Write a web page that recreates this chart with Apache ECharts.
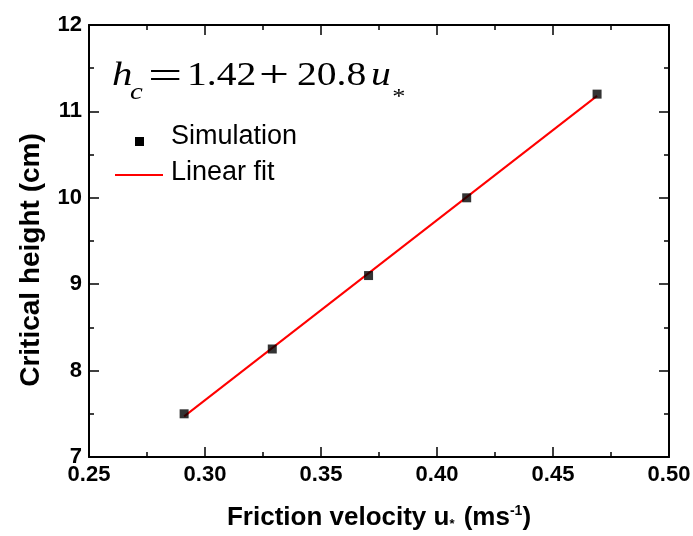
<!DOCTYPE html>
<html>
<head>
  <meta charset="UTF-8">
  <title>Critical height vs friction velocity</title>
  <script src="https://cdn.jsdelivr.net/npm/echarts@6/dist/echarts.min.js"></script>
  <style>
    html,body{margin:0;padding:0;background:#fff;}
    #chart{width:693px;height:536px;}
  </style>
</head>
<body>
<div id="chart"></div>
<script>
  // values
  var simX = [0.291, 0.329, 0.3705, 0.4128, 0.469];
  var simY = [7.5, 8.25, 9.1, 10.0, 11.2];
  var fitX = [0.291, 0.469];
  var fitY = [7.47, 11.18];

  var chart = echarts.init(document.getElementById('chart'));
  var font = 'Liberation Sans, Arial, sans-serif';
  var serif = 'Liberation Serif, Times New Roman, serif';

  function pairs(xs, ys){
    return xs.map(function(x, i){ return [x, ys[i]]; });
  }

  // one piece of the equation, stretched a bit like the original
  function eq(txt, x, y, size, italic, sx){
    return {
      type:'text', x:x, y:y, scaleX:sx || 1.2,
      style:{text:txt, fontFamily:serif, fontSize:size, fontStyle:italic ? 'italic' : 'normal',
        fill:'#000', align:'left', verticalAlign:'middle'}
    };
  }

  var tickStyle = {show:true, inside:true, length:10, lineStyle:{color:'#000', width:1.5}};
  var minorStyle = {show:true, splitNumber:2, length:5, lineStyle:{color:'#000', width:1.5}};
  var lineStyle = {show:true, lineStyle:{color:'#000', width:2}};

  chart.setOption({
    animation:false,
    grid:{left:89, right:24, top:25, bottom:79, containLabel:false, outerBoundsMode:'none'},
    xAxis:[{
      type:'value', min:0.25, max:0.5, interval:0.05,
      axisLine:lineStyle, axisTick:tickStyle, minorTick:minorStyle, splitLine:{show:false},
      axisLabel:{color:'#000', fontFamily:font, fontWeight:'bold', fontSize:22, margin:7,
        formatter:function(v){ return v.toFixed(2); }},
      name:'{n|Friction velocity u}{sub|*}{n| (ms}{sup|-1}{n|)}',
      nameLocation:'middle', nameGap:47,
      nameTextStyle:{rich:{
        n:{fontFamily:font, fontWeight:'bold', fontSize:26, color:'#000'},
        sub:{fontFamily:font, fontWeight:'bold', fontSize:13, color:'#000', verticalAlign:'bottom', padding:[14,2,0,0]},
        sup:{fontFamily:font, fontWeight:'bold', fontSize:14, color:'#000', verticalAlign:'top', padding:[0,0,12,0]}
      }}
    },{
      type:'value', position:'top', min:0.25, max:0.5, interval:0.05,
      axisLine:lineStyle, axisTick:tickStyle, minorTick:minorStyle,
      axisLabel:{show:false}, splitLine:{show:false}
    }],
    yAxis:[{
      type:'value', min:7, max:12, interval:1,
      axisLine:lineStyle, axisTick:tickStyle, minorTick:minorStyle, splitLine:{show:false},
      axisLabel:{color:'#000', fontFamily:font, fontWeight:'bold', fontSize:22, margin:7},
      name:'Critical height (cm)', nameLocation:'middle', nameGap:44,
      nameTextStyle:{fontFamily:font, fontWeight:'bold', fontSize:28, color:'#000', padding:[0,38,0,0]}
    },{
      type:'value', position:'right', min:7, max:12, interval:1,
      axisLine:lineStyle, axisTick:tickStyle, minorTick:minorStyle,
      axisLabel:{show:false}, splitLine:{show:false}
    }],
    series:[{
      name:'Linear fit', type:'line', data:pairs(fitX, fitY),
      showSymbol:false, lineStyle:{color:'#ff0000', width:2}, z:3
    },{
      name:'Simulation', type:'scatter', data:pairs(simX, simY),
      symbol:'rect', symbolSize:9, itemStyle:{color:'#000'}, z:4
    }],
    graphic:[
      eq('h', 112, 76, 34, true),
      eq('c', 130, 93, 24, true),
      eq('=', 148, 78, 38, false, 1.6),
      eq('1.42', 187, 76, 33, false),
      eq('+', 259, 77, 38, false, 1.4),
      eq('20.8', 297, 76, 33, false),
      eq('u', 371, 76, 33, true),
      eq('*', 391, 97, 22, true),
      {
        type:'rect', shape:{x:135, y:137, width:9, height:9}, style:{fill:'#000'}
      },{
        type:'text', x:171, y:137,
        style:{text:'Simulation', fontFamily:font, fontSize:27, fill:'#000', verticalAlign:'middle'}
      },{
        type:'line', shape:{x1:115, y1:175, x2:163, y2:175}, style:{stroke:'#ff0000', lineWidth:2}
      },{
        type:'text', x:171, y:173,
        style:{text:'Linear fit', fontFamily:font, fontSize:27, fill:'#000', verticalAlign:'middle'}
      }
    ]
  });
</script>
</body>
</html>
